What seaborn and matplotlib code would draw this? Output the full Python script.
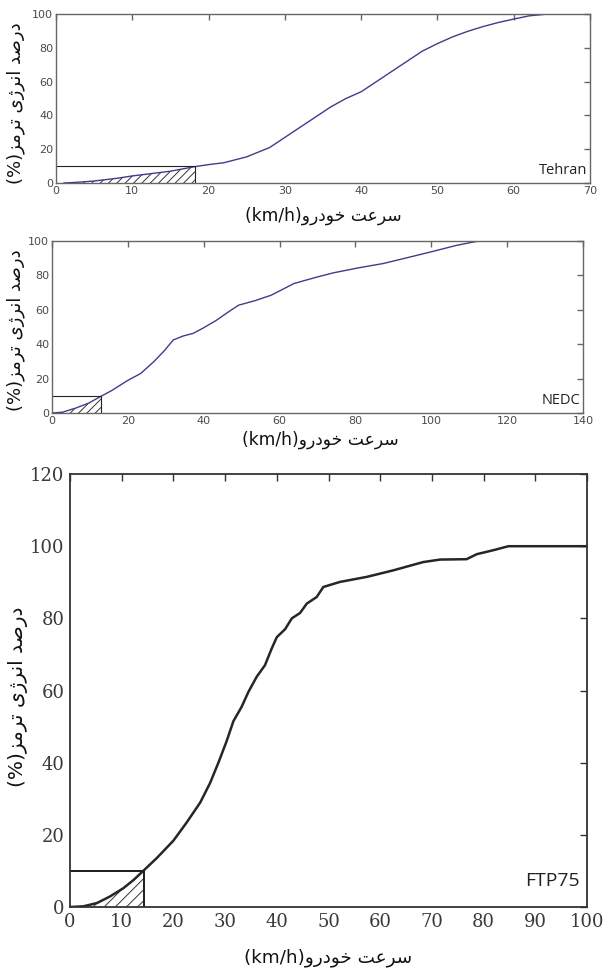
import matplotlib
matplotlib.use("Agg")
import matplotlib.pyplot as plt
import numpy as np
import seaborn as sns

# braking energy share (%) against vehicle speed (km/h)
TEHRAN_SPEED = [1, 3, 5, 8, 10, 12, 15, 18.2, 20, 22, 25, 28, 30, 32, 34, 36, 38, 40,
                42, 44, 46, 48, 50, 52, 54, 56, 58, 60, 62, 64, 65.8]
TEHRAN_SHARE = [0, 0.5, 1.2, 2.8, 4.2, 5.3, 7, 9.7, 10.9, 12, 15.5, 21, 27, 33, 39, 45, 50, 54,
                60, 66, 72, 78, 82.5, 86.5, 89.8, 92.6, 95, 97, 98.9, 99.8, 100]

NEDC_SPEED = [0, 2.8, 6.3, 9.7, 12.9, 15.7, 20, 23.4, 26.9, 29.4, 32, 34.6, 37.2, 39.7,
              43.2, 46.6, 49.2, 53.5, 57.8, 63.8, 69.8, 74.2, 80.8, 87.3, 94.4, 100.5,
              106.7, 112, 115]
NEDC_SHARE = [0, 0.5, 2.9, 5.8, 9.7, 13, 19, 23, 30, 35.7, 42.5, 44.8, 46.3, 49.2,
              53.7, 58.9, 62.7, 65.3, 68.5, 75.3, 79, 81.5, 84.4, 86.9, 90.7, 94,
              97.5, 99.8, 100]

FTP_SPEED = [0, 2.6, 5.2, 7.7, 10.3, 12.3, 14.3, 16.8, 20, 22.6, 25.2, 27.1, 28.7, 30.3,
             31.6, 33.2, 34.5, 36.1, 37.7, 39, 40, 41.6, 42.9, 44.5, 45.8, 47.7, 49,
             52.2, 57.4, 62.5, 68.3, 71.6, 76.7, 78.7, 81.9, 84.8, 100]
FTP_SHARE = [0, 0.2, 1.1, 2.9, 5.2, 7.5, 10.2, 13.6, 18.4, 23.5, 29, 34.4, 40, 46,
             51.5, 55.5, 59.6, 63.8, 67, 71.6, 74.8, 77, 80, 81.5, 84.1, 85.9, 88.7,
             90.1, 91.5, 93.3, 95.6, 96.3, 96.4, 97.8, 98.9, 100, 100]

CYCLE_NAMES = ["Tehran", "NEDC", "FTP75"]
CUT_SPEEDS = [18.2, 12.9, 14.3]
CUT_SHARE = 10

# Persian labels written in visual order with presentation forms
X_LABEL = "(km/h)" + "\uFEED\uFEAD\uFEA9\uFEEE\uFEA7" + " " + "\uFE96\uFECB\uFEAE\uFEB3"
Y_LABEL = ("(%)" + "\uFEB0\uFEE3\uFEAE\uFE97" + " " + "\uFBFC\uFB8A\uFEAE\uFEE7\uFE8D"
           + " " + "\uFEAA\uFEBB\uFEAD\uFEA9")


def draw_panel(ax, speed, share, cut, name, xmax, xstep, ymax, paper):
    speed = np.array(speed)
    share = np.array(share)
    if paper:
        line_c, spine_c, text_c = "#262626", "#333333", "#3a3a3a"
        lw, hatch = 1.8, "///"
        tick_font = dict(family="DejaVu Serif", size=13)
        xl_size, yl_size = 13.2, 14.5
    else:
        line_c, spine_c, text_c = "#3d3d8c", "#666666", "#4a4a4a"
        lw, hatch = 1.0, "////"
        tick_font = dict(family="DejaVu Sans", size=8)
        xl_size, yl_size = 12.3, 13

    sns.lineplot(x=speed, y=share, ax=ax, color=line_c, linewidth=lw)

    mask = speed <= cut
    ax.fill_between(speed[mask], 0, share[mask], facecolor="none",
                    edgecolor="#333333", hatch=hatch, linewidth=0)
    ax.hlines(CUT_SHARE, 0, cut, color="#222222", linewidth=lw * 0.8)
    ax.vlines(cut, 0, CUT_SHARE, color="#222222", linewidth=lw * 0.8)

    ax.set_xlim(0, xmax)
    ax.set_ylim(0, ymax)
    ax.set_xticks(np.arange(0, xmax + 1, xstep))
    ax.set_yticks(np.arange(0, ymax + 1, 20))
    for s in ax.spines.values():
        s.set_color(spine_c)
        s.set_linewidth(1.3 if paper else 1.0)
    ax.tick_params(direction="in", top=True, right=True, length=5 if paper else 4,
                   width=1, color=spine_c, labelcolor=text_c, pad=4 if paper else 2)
    for lab in ax.get_xticklabels() + ax.get_yticklabels():
        lab.set_fontfamily(tick_font["family"])
        lab.set_fontsize(tick_font["size"])

    ax.set_xlabel(X_LABEL, fontsize=xl_size, color="#111111", family="DejaVu Sans")
    ax.set_ylabel(Y_LABEL, fontsize=yl_size, color="#111111", family="DejaVu Sans")
    ax.text(0.985 if paper else 0.995, 0.04 if paper else 0.03, name,
            transform=ax.transAxes, ha="right", va="bottom",
            family="Open Sans", fontsize=14 if paper else 10.5, color="#222222")


sns.set_style("white")
plt.rcParams["font.family"] = ["DejaVu Sans"]
plt.rcParams["hatch.linewidth"] = 0.7

fig = plt.figure(figsize=(6.03, 9.73), dpi=100)

ax1 = fig.add_axes([0.0929, 0.8119, 0.8856, 0.1737])
draw_panel(ax1, TEHRAN_SPEED, TEHRAN_SHARE, CUT_SPEEDS[0], CYCLE_NAMES[0], 70, 10, 100, False)
ax1.xaxis.set_label_coords(0.5, -0.14)
ax1.yaxis.set_label_coords(-0.058, 0.47)

ax2 = fig.add_axes([0.0862, 0.5755, 0.8806, 0.1768])
draw_panel(ax2, NEDC_SPEED, NEDC_SHARE, CUT_SPEEDS[1], CYCLE_NAMES[1], 140, 20, 100, False)
ax2.xaxis.set_label_coords(0.505, -0.10)
ax2.yaxis.set_label_coords(-0.051, 0.48)

ax3 = fig.add_axes([0.1161, 0.0678, 0.8574, 0.445])
draw_panel(ax3, FTP_SPEED, FTP_SHARE, CUT_SPEEDS[2], CYCLE_NAMES[2], 100, 10, 120, True)
ax3.xaxis.set_label_coords(0.5, -0.095)
ax3.yaxis.set_label_coords(-0.081, 0.485)

fig.savefig("out.png", dpi=100)
